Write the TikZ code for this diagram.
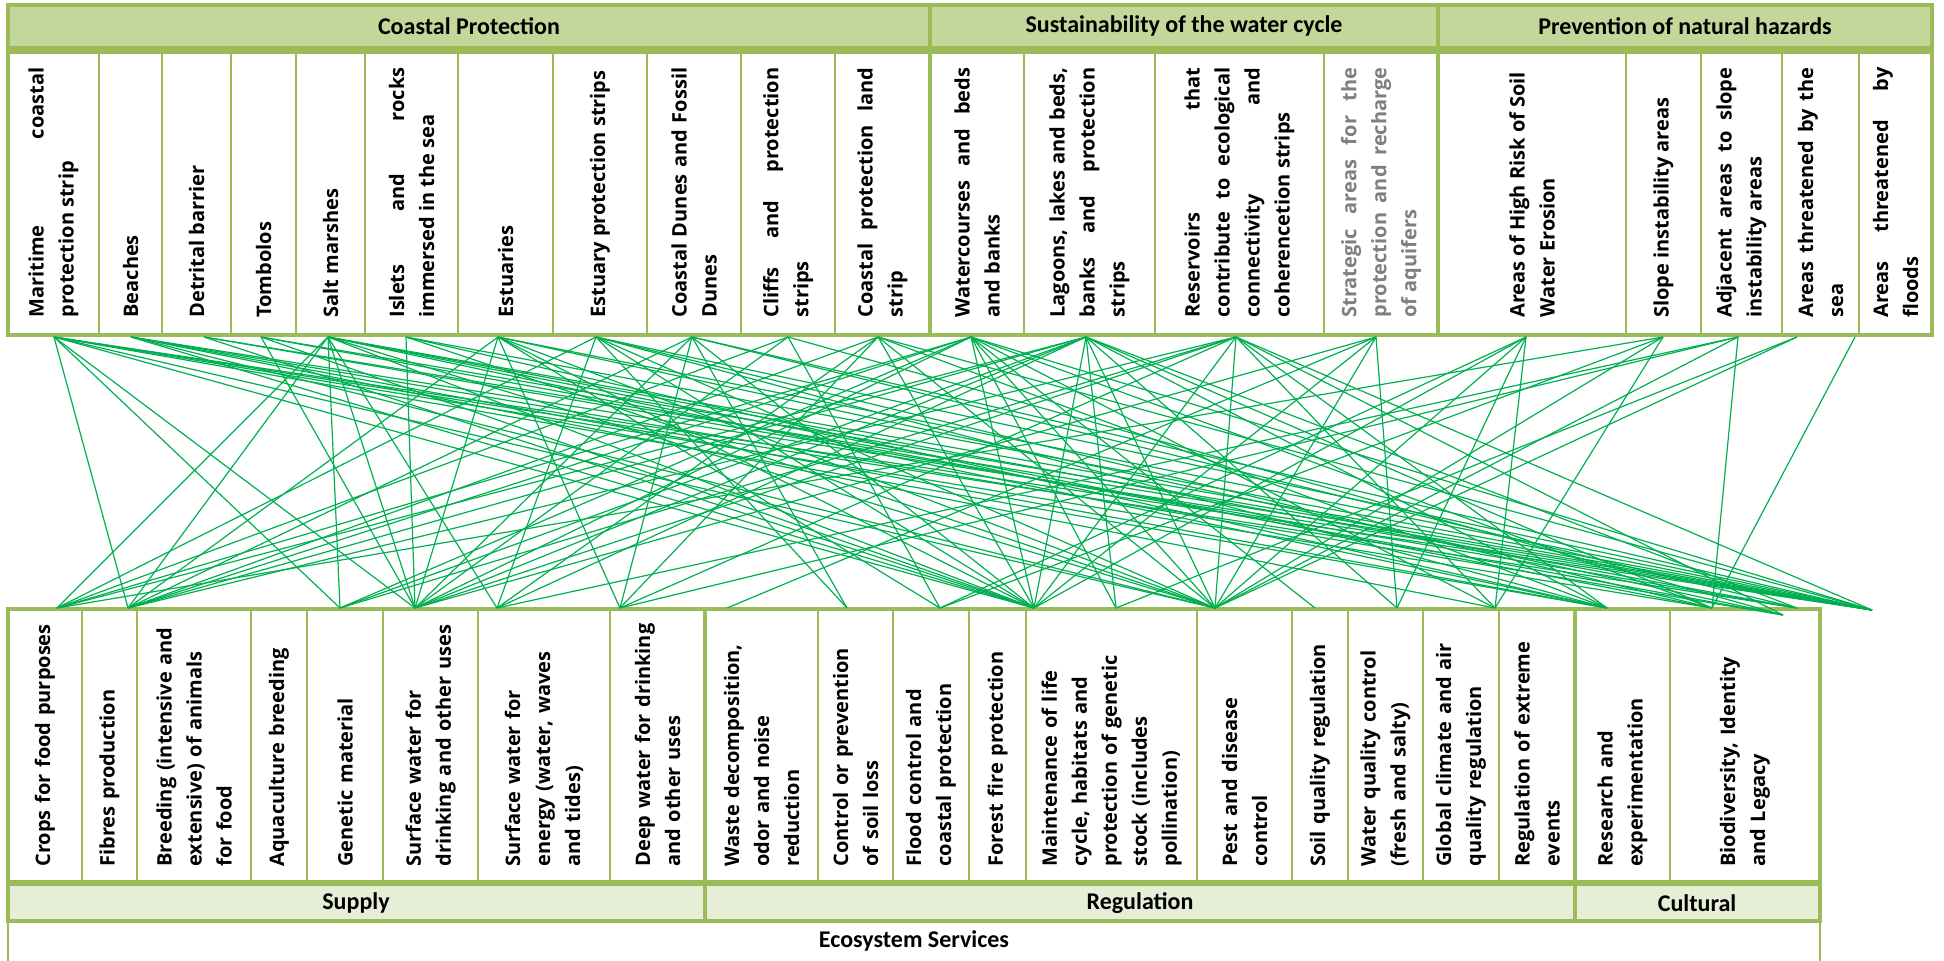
\documentclass[tikz,border=0pt]{standalone}
\usepackage{fontspec}
\usepackage{tikz}
\newfontfamily\cellfont{Open Sans}
\newfontfamily\headfont{Carlito}
\definecolor{olivebrd}{HTML}{9BBB59}
\definecolor{headfill}{HTML}{C4D79B}
\definecolor{catfill}{HTML}{E6EED8}
\definecolor{linkgreen}{HTML}{00B050}
\definecolor{graytext}{HTML}{7F7F7F}

\begin{document}
\begin{tikzpicture}[x=0.5pt, y=-0.5pt,
	cellframe/.style={draw=olivebrd, line width=1.1pt},
	outerframe/.style={draw=olivebrd, line width=1.75pt},
	splitframe/.style={draw=olivebrd, line width=2.2pt},
	headtext/.style={font=\headfont\bfseries\fontsize{12}{14}\selectfont, inner sep=1pt},
	toptext/.style={rotate=90, anchor=west, inner sep=0pt, text width=125pt, align=justify, font=\cellfont\bfseries\fontsize{10}{15}\selectfont},
	bottext/.style={toptext, align=left},
	link/.style={draw=linkgreen, line width=0.6pt}]
	\useasboundingbox (0,0) rectangle (1944,960);
	\begin{scope}
		\foreach \l/\r/\n/\c/\t in {
			8/99/maritime/black/{Maritime coastal\linebreak protection strip},
			99/162/beaches/black/{Beaches},
			162/231/detrital/black/{Detrital barrier},
			231/296/tombolos/black/{Tombolos},
			296/365/saltm/black/{Salt marshes},
			365/458/islets/black/{Islets and rocks\linebreak immersed in the sea},
			458/553/estuar/black/{Estuaries},
			553/647/eststrip/black/{Estuary protection strips},
			647/741/dunes/black/{Coastal Dunes and Fossil\linebreak Dunes},
			741/835/cliffs/black/{Cliffs and protection\linebreak strips},
			835/930/coastland/black/{Coastal protection land\linebreak strip},
			930/1024/watercrs/black/{Watercourses and beds\linebreak and banks},
			1024/1155/lagoons/black/{Lagoons, lakes and beds,\linebreak banks and protection\linebreak strips},
			1155/1324/reserv/black/{Reservoirs that\linebreak contribute to ecological\linebreak connectivity and\linebreak coherencetion strips},
			1324/1438/aquif/graytext/{Strategic areas for the\linebreak protection and recharge\linebreak of aquifers},
			1438/1626/erosion/black/{Areas of High Risk of Soil\\ Water Erosion},
			1626/1701/slope/black/{Slope instability areas},
			1701/1782/adjslope/black/{Adjacent areas to slope\linebreak instability areas},
			1782/1859/seathr/black/{Areas threatened by the\linebreak sea},
			1859/1932/floodthr/black/{Areas threatened by\linebreak floods}}
		{
			\draw[cellframe] (\l,52) rectangle (\r,335);
			\node[toptext, text=\c] (\n) at ({(\l+\r)/2},318) {\t};
		}
		\draw[outerframe] (8,52) rectangle (1932,335);
		\draw[splitframe] (930,52) -- (930,335) (1438,52) -- (1438,335);
		\draw[outerframe, fill=headfill] (8,5) rectangle (930,48);
		\draw[outerframe, fill=headfill] (930,5) rectangle (1438,48);
		\draw[outerframe, fill=headfill] (1438,5) rectangle (1932,48);
		\node[headtext] (hcoast) at (469,26) {Coastal Protection};
		\node[headtext] (hwater) at (1184,26) {Sustainability of the water cycle};
		\node[headtext] (hhazard) at (1685,26) {Prevention of natural hazards};
	\end{scope}
	\begin{scope}
		\foreach \l/\r/\n/\t in {
			8/82/crops/{Crops for food purposes},
			82/137/fibres/{Fibres production},
			137/251/breed/{Breeding (intensive and\\ extensive) of animals\\ for food},
			251/307/aqua/{Aquaculture breeding},
			307/383/genet/{Genetic material},
			383/478/swdrink/{Surface water for\\ drinking and other uses},
			478/610/swenergy/{Surface water for\\ energy (water, waves\\ and tides)},
			610/705/deepw/{Deep water for drinking\\ and other uses},
			705/818/waste/{Waste decomposition,\\ odor and noise\\ reduction},
			818/893/soilloss/{Control or prevention\\ of soil loss},
			893/969/floodc/{Flood control and\\ coastal protection},
			969/1026/forest/{Forest fire protection},
			1026/1197/lifecyc/{Maintenance of life\\ cycle, habitats and\\ protection of genetic\\ stock (includes\\ pollination)},
			1197/1292/pest/{Pest and disease\\ control},
			1292/1348/soilq/{Soil quality regulation},
			1348/1423/waterq/{Water quality control\\ (fresh and salty)},
			1423/1499/climate/{Global climate and air\\ quality regulation},
			1499/1575/extreme/{Regulation of extreme\\ events},
			1575/1670/research/{Research and\\ experimentation},
			1670/1820/biodiv/{Biodiversity, Identity\\ and Legacy}}
		{
			\draw[cellframe] (\l,609) rectangle (\r,882);
			\node[bottext] (\n) at ({(\l+\r)/2},867) {\t};
		}
		\draw[outerframe] (8,609) rectangle (1820,882);
		\draw[splitframe] (705,609) -- (705,882) (1575,609) -- (1575,882);
		\draw[outerframe, fill=catfill] (8,884) rectangle (705,921);
		\draw[outerframe, fill=catfill] (705,884) rectangle (1575,921);
		\draw[outerframe, fill=catfill] (1575,884) rectangle (1820,921);
		\node[headtext] (csupply) at (356,903) {Supply};
		\node[headtext] (cregul) at (1140,903) {Regulation};
		\node[headtext] (ccult) at (1697,903) {Cultural};
		\draw[cellframe] (8,921) -- (8,962) (1820,921) -- (1820,962);
		\node[headtext] (ecoserv) at (914,941) {Ecosystem Services};
	\end{scope}
	\foreach \n/\x in {mcs/54, bch/131, dtb/204, tmb/261, slm/328, isl/406, est/498, eps/596, dun/692, clf/788, cpl/878, wcb/971, lag/1086, res/1236, saq/1376, hre/1526, sia/1663, aia/1738, ats/1797, atf/1855}
		\coordinate (\n) at (\x,337);
	\foreach \n/\x/\y in {crp/57/608, fib/128/608, gen/340/608, swd/415/608, swe/497/608, dwd/620/608, wst/727/608, csl/847/608, flc/940/608, mlc/1034/608, mlb/1116/608, pdc/1215/608, sqr/1315/608, wqc/1397/608, gca/1495/608, rae/1607/608, bil/1712/608, bi2/1783/615, bi3/1797/608, ext/1872/610}
		\coordinate (\n) at (\x,\y);
	\foreach \a/\b in {
		mcs/fib, mcs/gen, mcs/swd, mcs/mlc, mcs/pdc, mcs/rae, mcs/bil, mcs/bi3, mcs/ext,
		bch/mlc, bch/pdc, bch/gca, bch/rae, bch/bi2, bch/ext,
		dtb/mlc, dtb/bi3, dtb/ext,
		tmb/swd, tmb/mlc, tmb/bi2, tmb/ext,
		slm/crp, slm/fib, slm/gen, slm/swd, slm/swe, slm/mlc, slm/pdc, slm/rae, slm/bil, slm/bi3, slm/ext,
		isl/swd, isl/pdc, isl/rae, isl/ext,
		est/fib, est/swd, est/dwd, est/flc, est/mlc, est/pdc, est/bi2, est/ext,
		eps/crp, eps/swe, eps/csl, eps/mlc, eps/pdc, eps/rae, eps/bil, eps/ext,
		dun/fib, dun/swd, dun/dwd, dun/csl, dun/mlc, dun/bi3, dun/ext,
		clf/crp, clf/swd, clf/flc, clf/bi2,
		cpl/fib, cpl/swe, cpl/dwd, cpl/mlc, cpl/pdc, cpl/rae, cpl/ext,
		wcb/crp, wcb/fib, wcb/gen, wcb/swd, wcb/mlc, wcb/mlb, wcb/pdc, wcb/sqr, wcb/gca, wcb/bil, wcb/ext,
		lag/crp, lag/fib, lag/gen, lag/swd, lag/swe, lag/mlc, lag/mlb, lag/pdc, lag/wqc, lag/rae, lag/bil, lag/bi3,
		res/fib, res/gen, res/swd, res/dwd, res/mlc, res/pdc, res/gca, res/rae, res/bi2, res/ext,
		saq/swd, saq/wst, saq/mlc, saq/pdc, saq/wqc,
		hre/flc, hre/mlc, hre/pdc, hre/wqc, hre/gca,
		sia/crp, sia/flc, sia/pdc, sia/gca,
		aia/swe, aia/dwd, aia/pdc, aia/bil,
		ats/mlb, ats/pdc,
		atf/bil}
		\draw[link] (\a) -- (\b);
\end{tikzpicture}
\end{document}
